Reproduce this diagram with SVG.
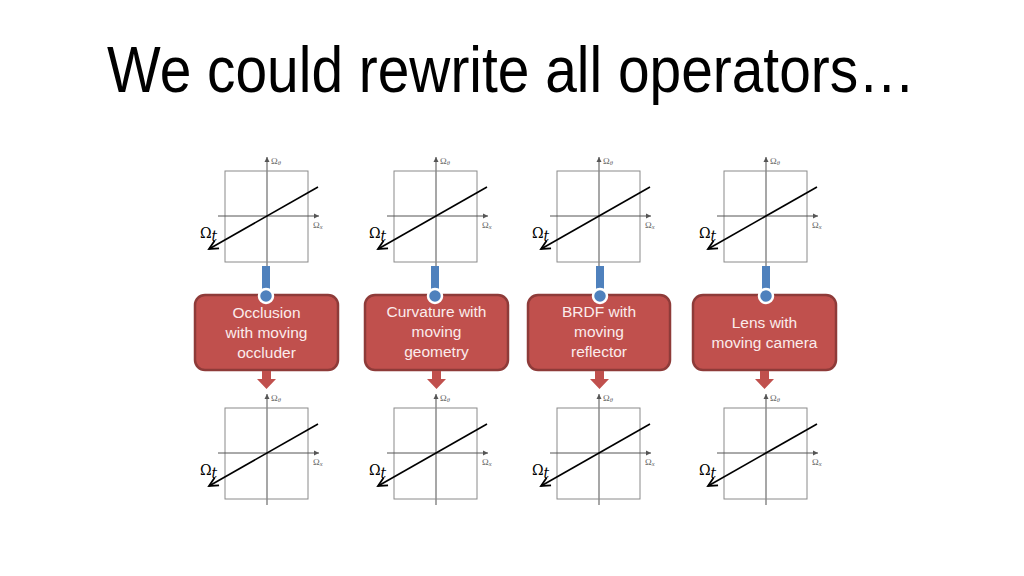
<svg xmlns="http://www.w3.org/2000/svg" xmlns:xlink="http://www.w3.org/1999/xlink" width="1024" height="576" viewBox="0 0 1024 576">
<style>
.title{font-family:"Liberation Sans",Arial,sans-serif;font-size:64px;fill:#000}
.box{fill:#C0504D;stroke:#8E3B39;stroke-width:2.5}
.lbl{font-family:"Liberation Sans",Arial,sans-serif;font-size:15.5px;fill:#FBECEC;text-anchor:middle}
.frame{fill:none;stroke:#8a8a8a;stroke-width:1}
.vax{stroke:#8a8a8a;stroke-width:1.5}
.hax{stroke:#555;stroke-width:1}
.diag{stroke:#000;stroke-width:1.6;fill:none}
.small{font-family:"Liberation Serif","DejaVu Serif",serif;font-size:9px;fill:#666}
.om{font-family:"DejaVu Serif","Liberation Serif",serif;font-size:14px;fill:#000}
.pin{fill:#4F81BD}
.pinc{fill:#4F81BD;stroke:#fff;stroke-width:2.5}
.rarrow{fill:#C0504D}
</style>
<defs>
<marker id="ax" markerWidth="6" markerHeight="6" refX="5" refY="3" orient="auto" markerUnits="userSpaceOnUse">
<path d="M0,0.5 L5,3 L0,5.5 Z" fill="#555"/>
</marker>
<marker id="dg" markerWidth="12" markerHeight="12" refX="10" refY="6" orient="auto" markerUnits="userSpaceOnUse">
<path d="M1,1.5 L10,6 L1,10.5" fill="none" stroke="#000" stroke-width="1.8"/>
</marker>
<g id="plot">
<rect class="frame" x="-42" y="-45" width="83" height="91"/>
<line class="vax" x1="0" y1="52" x2="0" y2="-59" marker-end="url(#ax)"/>
<line class="hax" x1="-49" y1="0" x2="52" y2="0" marker-end="url(#ax)"/>
<line class="diag" x1="51" y1="-29" x2="-58" y2="33" marker-end="url(#dg)"/>
<text class="small" x="4" y="-52">Ω<tspan font-style="italic" font-size="6.5" dy="1">θ</tspan></text>
<text class="small" x="46" y="12">Ω<tspan font-style="italic" font-size="6.5" dy="1">x</tspan></text>
<text class="om" x="-67" y="22">Ω<tspan font-style="italic" font-size="14" dy="3">t</tspan></text>
</g>
</defs>

<text class="title" x="107" y="92" textLength="808" lengthAdjust="spacingAndGlyphs">We could rewrite all operators…</text>

<g id="plot-top-1"><use xlink:href="#plot" x="267" y="216"/></g>
<g id="plot-top-2"><use xlink:href="#plot" x="436" y="216"/></g>
<g id="plot-top-3"><use xlink:href="#plot" x="599" y="216"/></g>
<g id="plot-top-4"><use xlink:href="#plot" x="766" y="216"/></g>

<g id="plot-bottom-1"><use xlink:href="#plot" x="267" y="453"/></g>
<g id="plot-bottom-2"><use xlink:href="#plot" x="436" y="453"/></g>
<g id="plot-bottom-3"><use xlink:href="#plot" x="599" y="453"/></g>
<g id="plot-bottom-4"><use xlink:href="#plot" x="766" y="453"/></g>

<g id="callout-occlusion">
<rect class="box" x="195" y="295" width="143" height="75" rx="10"/>
<text class="lbl" x="266.5" y="318">Occlusion</text>
<text class="lbl" x="266.5" y="338">with moving</text>
<text class="lbl" x="266.5" y="358">occluder</text>
</g>
<g id="callout-curvature">
<rect class="box" x="365" y="295" width="143" height="75" rx="10"/>
<text class="lbl" x="436.5" y="317">Curvature with</text>
<text class="lbl" x="436.5" y="337">moving</text>
<text class="lbl" x="436.5" y="357">geometry</text>
</g>
<g id="callout-brdf">
<rect class="box" x="528" y="295" width="142" height="75" rx="10"/>
<text class="lbl" x="599" y="317">BRDF with</text>
<text class="lbl" x="599" y="337">moving</text>
<text class="lbl" x="599" y="357">reflector</text>
</g>
<g id="callout-lens">
<rect class="box" x="693" y="295" width="143" height="75" rx="10"/>
<text class="lbl" x="764.5" y="328">Lens with</text>
<text class="lbl" x="764.5" y="348">moving camera</text>
</g>

<g id="connectors">
<rect class="pin" x="262" y="266" width="8" height="30"/><circle class="pinc" cx="266" cy="296" r="7"/>
<rect class="pin" x="431" y="266" width="8" height="30"/><circle class="pinc" cx="435" cy="296" r="7"/>
<rect class="pin" x="596" y="266" width="8" height="30"/><circle class="pinc" cx="600" cy="296" r="7"/>
<rect class="pin" x="762" y="266" width="8" height="30"/><circle class="pinc" cx="766" cy="296" r="7"/>
<path class="rarrow" d="M262,371 H271 V379 H276 L266.5,389 L257,379 H262 Z"/>
<path class="rarrow" d="M432,371 H441 V379 H446 L436.5,389 L427,379 H432 Z"/>
<path class="rarrow" d="M595,371 H604 V379 H609 L599.5,389 L590,379 H595 Z"/>
<path class="rarrow" d="M760,371 H769 V379 H774 L764.5,389 L755,379 H760 Z"/>
</g>
</svg>
